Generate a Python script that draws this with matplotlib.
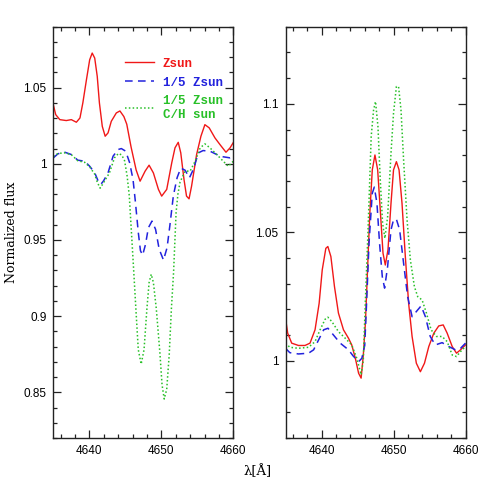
import matplotlib
matplotlib.use('Agg')
import matplotlib.pyplot as plt
from matplotlib.ticker import MultipleLocator

# Левая панель
xl_red = [4635.0, 4635.33, 4635.9, 4636.8, 4637.5, 4638.2, 4638.7, 4639.1, 4639.6, 4640.05,
          4640.4, 4640.75, 4641.1, 4641.4, 4641.8, 4642.2, 4642.6, 4643.05, 4643.75, 4644.25,
          4644.8, 4645.2, 4645.8, 4646.5, 4647.05, 4647.75, 4648.3, 4648.9, 4649.6, 4650.05,
          4650.75, 4651.45, 4651.9, 4652.35, 4652.7, 4653.15, 4653.5, 4653.85, 4654.2, 4654.9,
          4655.5, 4656.05, 4656.65, 4657.45, 4658.15, 4658.98, 4659.55, 4660.0]
yl_red = [1.0388, 1.0323, 1.029, 1.0284, 1.029, 1.0273, 1.0301, 1.040, 1.0552, 1.0683,
          1.0727, 1.0694, 1.0574, 1.040, 1.0246, 1.0181, 1.0203, 1.0279, 1.0334, 1.0347,
          1.031, 1.026, 1.011, 0.996, 0.9886, 0.9952, 0.9991, 0.994, 0.9832, 0.9788,
          0.9832, 1.0007, 1.0105, 1.0141, 1.0072, 0.9897, 0.9788, 0.977, 0.9853, 1.0061,
          1.0181, 1.0257, 1.0236, 1.017, 1.0126, 1.0076, 1.0105, 1.0140]

xl_blue = [4635.0, 4635.65, 4636.6, 4637.5, 4638.4, 4639.35, 4640.05, 4640.75, 4641.2, 4641.6,
           4642.0, 4642.6, 4643.3, 4644.0, 4644.45, 4645.05, 4645.6, 4646.07, 4646.4, 4646.8,
           4647.1, 4647.4, 4647.8, 4648.2, 4648.7, 4649.2, 4649.7, 4650.3, 4650.8, 4651.2,
           4651.67, 4652.2, 4652.7, 4653.3, 4653.9, 4654.45, 4655.15, 4655.8, 4656.75, 4657.7,
           4658.6, 4659.55, 4660.0]
yl_blue = [1.0039, 1.0066, 1.0076, 1.0061, 1.0024, 1.0017, 0.9984, 0.9941, 0.989, 0.9865,
           0.989, 0.9941, 1.005, 1.0094, 1.0100, 1.0083, 1.0007, 0.9897, 0.975, 0.955,
           0.943, 0.940, 0.947, 0.958, 0.9624, 0.957, 0.944, 0.9368, 0.945, 0.960,
           0.979, 0.991, 0.9972, 0.9958, 0.9908, 0.9963, 1.0072, 1.0087, 1.0083, 1.0061,
           1.0046, 1.0039, 1.0045]

xl_green = [4635.0, 4635.65, 4636.6, 4637.5, 4638.4, 4639.35, 4640.05, 4640.75, 4641.1, 4641.5,
            4641.9, 4642.8, 4643.5, 4644.05, 4644.5, 4644.9, 4645.25, 4645.55, 4645.85, 4646.1,
            4646.5, 4646.8, 4647.2, 4647.6, 4648.0, 4648.3, 4648.6, 4648.9, 4649.3, 4649.8,
            4650.1, 4650.4, 4650.75, 4651.1, 4651.4, 4651.7, 4652.05, 4652.3, 4652.6, 4653.3,
            4654.0, 4654.7, 4655.4, 4656.05, 4656.75, 4657.7, 4658.6, 4659.3, 4660.0]
yl_green = [1.0049, 1.0068, 1.0072, 1.006, 1.002, 1.001, 0.998, 0.9932, 0.988, 0.984,
            0.987, 0.9941, 1.004, 1.0068, 1.0058, 1.002, 0.992, 0.979, 0.955, 0.935,
            0.902, 0.878, 0.8685, 0.878, 0.905, 0.922, 0.9275, 0.922, 0.905, 0.876,
            0.855, 0.8456, 0.852, 0.875, 0.905, 0.9286, 0.968, 0.980, 0.988, 0.9952,
            0.9952, 1.0017, 1.0105, 1.0131, 1.0105, 1.0061, 1.0017, 0.9984, 1.0017]

# Правая панель
xr_red = [4635.0, 4635.3, 4635.86, 4636.8, 4637.7, 4638.4, 4639.1, 4639.67, 4640.1, 4640.6,
          4640.88, 4641.3, 4641.8, 4642.35, 4643.05, 4643.75, 4644.2, 4644.7, 4645.15, 4645.5,
          4645.8, 4646.1, 4646.4, 4646.7, 4647.05, 4647.42, 4647.8, 4648.16, 4648.54, 4648.86,
          4649.23, 4649.65, 4650.0, 4650.4, 4650.77, 4651.18, 4651.64, 4652.1, 4652.58, 4653.17,
          4653.73, 4654.3, 4654.9, 4655.6, 4656.28, 4656.9, 4657.45, 4658.15, 4658.75, 4659.3,
          4660.0]
yr_red = [1.0166, 1.0108, 1.0069, 1.006, 1.006, 1.0069, 1.0121, 1.0224, 1.0354, 1.0438,
          1.0445, 1.0406, 1.0289, 1.0186, 1.0121, 1.0088, 1.0062, 1.001, 0.9952, 0.9933,
          1.002, 1.015, 1.036, 1.057, 1.0743, 1.0801, 1.0743, 1.0587, 1.0419, 1.0373,
          1.0432, 1.0613, 1.0743, 1.0775, 1.0743, 1.0613, 1.0406, 1.0224, 1.0095, 0.9991,
          0.9958, 0.9991, 1.0056, 1.0108, 1.0136, 1.014, 1.0108, 1.0056, 1.003, 1.0043,
          1.0062]

xr_blue = [4635.0, 4635.6, 4636.8, 4638.2, 4638.9, 4639.6, 4640.3, 4640.9, 4641.65, 4642.6,
           4643.75, 4644.4, 4645.15, 4645.6, 4646.0, 4646.25, 4646.6, 4647.05, 4647.33, 4647.7,
           4648.06, 4648.44, 4648.76, 4649.18, 4649.65, 4650.0, 4650.4, 4650.85, 4651.4, 4651.96,
           4652.58, 4653.17, 4653.83, 4654.43, 4655.1, 4655.8, 4656.75, 4657.67, 4658.6, 4659.3,
           4660.0]
yr_blue = [1.0049, 1.0032, 1.0027, 1.003, 1.0043, 1.0082, 1.0121, 1.0127, 1.0101, 1.0069,
           1.0043, 1.0019, 0.9997, 1.001, 1.006, 1.022, 1.046, 1.0652, 1.0676, 1.0613,
           1.0458, 1.0328, 1.0283, 1.0367, 1.051, 1.0549, 1.0551, 1.051, 1.038, 1.025,
           1.0172, 1.0192, 1.0214, 1.0172, 1.0095, 1.0062, 1.0071, 1.0056, 1.0043, 1.0049,
           1.0069]

xr_green = [4635.0, 4635.6, 4636.8, 4638.2, 4639.1, 4639.8, 4640.5, 4640.88, 4641.43, 4642.35,
            4643.3, 4644.2, 4644.9, 4645.5, 4645.8, 4646.1, 4646.45, 4646.9, 4647.23, 4647.5,
            4647.84, 4648.16, 4648.48, 4648.8, 4649.18, 4649.65, 4650.0, 4650.4, 4650.7, 4651.04,
            4651.4, 4651.88, 4652.34, 4652.9, 4653.36, 4653.97, 4654.57, 4655.22, 4655.96, 4656.75,
            4657.45, 4658.15, 4658.75, 4659.3, 4660.0]
yr_green = [1.0069, 1.0053, 1.0049, 1.0053, 1.0075, 1.0121, 1.0162, 1.017, 1.0153, 1.0114,
            1.0088, 1.0062, 1.001, 0.9946, 1.000, 1.024, 1.05, 1.0873, 1.0976, 1.1009,
            1.0911, 1.0704, 1.0536, 1.0477, 1.0561, 1.0808, 1.0963, 1.1067, 1.1067, 1.0976,
            1.0782, 1.0549, 1.0393, 1.0289, 1.025, 1.0237, 1.0186, 1.0121, 1.0095, 1.0095,
            1.0075, 1.0023, 1.0017, 1.0036, 1.0056]

labels = ['Zsun', '1/5 Zsun', '1/5 Zsun\nC/H sun']
colors = ['#f01818', '#2222dd', '#28c028']

fig = plt.figure(figsize=(4.91, 4.91), dpi=100)
ax1 = fig.add_axes([0.1086, 0.1079, 0.3666, 0.8377])
ax2 = fig.add_axes([0.5815, 0.1079, 0.3666, 0.8377])

ax1.plot(xl_red, yl_red, color=colors[0], lw=1.0, label=labels[0])
ax1.plot(xl_blue, yl_blue, color=colors[1], lw=1.1, dashes=(5, 3.5), label=labels[1])
ax1.plot(xl_green, yl_green, color=colors[2], lw=1.1, dashes=(1, 1.5), label=labels[2])

ax2.plot(xr_red, yr_red, color=colors[0], lw=1.0)
ax2.plot(xr_blue, yr_blue, color=colors[1], lw=1.1, dashes=(5, 3.5))
ax2.plot(xr_green, yr_green, color=colors[2], lw=1.1, dashes=(1, 1.5))

ax1.set_xlim(4635, 4660)
ax1.set_ylim(0.82, 1.09)
ax2.set_xlim(4635, 4660)
ax2.set_ylim(0.97, 1.13)

ax1.yaxis.set_major_locator(MultipleLocator(0.05))
ax1.yaxis.set_minor_locator(MultipleLocator(0.01))
ax2.yaxis.set_major_locator(MultipleLocator(0.05))
ax2.yaxis.set_minor_locator(MultipleLocator(0.01))

ax1.set_yticks([0.85, 0.9, 0.95, 1.0, 1.05])
ax1.set_yticklabels(['0.85', '0.9', '0.95', '1', '1.05'])
ax2.set_yticks([1.0, 1.05, 1.1])
ax2.set_yticklabels(['1', '1.05', '1.1'])

for ax in (ax1, ax2):
    ax.xaxis.set_major_locator(MultipleLocator(10))
    ax.xaxis.set_minor_locator(MultipleLocator(2))
    ax.tick_params(which='both', direction='in', top=True, right=True, width=0.9, color='#222222')
    ax.tick_params(which='major', length=6)
    ax.tick_params(which='minor', length=3)
    ax.tick_params(labelsize=8.5, pad=5)
    for lab in ax.get_xticklabels() + ax.get_yticklabels():
        lab.set_family('Liberation Sans')
    for sp in ax.spines.values():
        sp.set_linewidth(1.0)
        sp.set_color('#222222')

ax1.set_ylabel('Normalized flux', family='DejaVu Serif', fontsize=9, labelpad=4)
fig.text(0.525, 0.041, 'λ[Å]', family='DejaVu Serif', fontsize=9.5, ha='center', va='center')

leg = ax1.legend(loc='upper left', bbox_to_anchor=(0.365, 0.94), frameon=False,
                 prop={'family': 'Liberation Mono', 'size': 9, 'weight': 'bold'},
                 handlelength=2.3, handletextpad=0.7, labelspacing=0.55, borderpad=0)
for txt, c in zip(leg.get_texts(), colors):
    txt.set_color(c)

plt.savefig('out.png', dpi=100)
